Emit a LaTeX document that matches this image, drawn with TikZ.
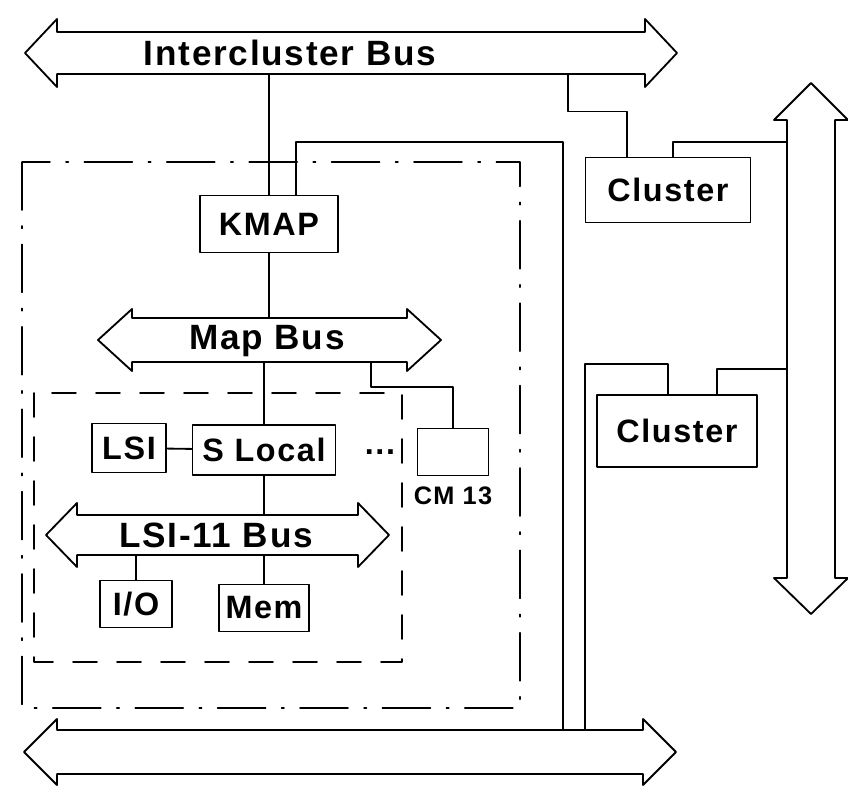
\documentclass[tikz,border=0pt]{standalone}
\usepackage{fontspec}
\newfontfamily\labelfont[LetterSpace=5]{Liberation Sans}
\usetikzlibrary{positioning}
\begin{document}
\begin{tikzpicture}[x=0.25mm, y=-0.25mm, line width=1.3pt, line join=round, line cap=round,
	unit/.style={draw, inner sep=0pt, font=\labelfont\bfseries\fontsize{23}{23}\selectfont},
	buslabel/.style={inner sep=0pt, font=\labelfont\bfseries\fontsize{25}{25}\selectfont},
	smalllabel/.style={inner sep=0pt, font=\labelfont\bfseries\fontsize{18}{18}\selectfont},
	clusterframe/.style={line width=1.1pt, dash pattern=on 12mm off 4mm on 0.6mm off 4mm},
	localframe/.style={line width=1.1pt, dash pattern=on 6mm off 5mm}]
	\useasboundingbox (0,0) rectangle (848,795);
	% buses
	\draw (25,53) -- (57,19) -- (57,32) -- (645,32) -- (645,19) -- (677,53) -- (645,87) -- (645,74) -- (57,74) -- (57,87) -- cycle;
	\draw (98,340) -- (132,309) -- (132,318) -- (407,318) -- (407,309) -- (441,340) -- (407,371) -- (407,362) -- (132,362) -- (132,371) -- cycle;
	\draw (46,535) -- (77,503) -- (77,515) -- (358,515) -- (358,503) -- (389,535) -- (358,567) -- (358,555) -- (77,555) -- (77,567) -- cycle;
	\draw (24,752) -- (57,719) -- (57,730) -- (643,730) -- (643,719) -- (676,752) -- (643,785) -- (643,774) -- (57,774) -- (57,785) -- cycle;
	\draw (811,83) -- (848,120) -- (835,120) -- (835,578) -- (848,578) -- (811,614) -- (774,578) -- (787,578) -- (787,120) -- (774,120) -- cycle;
	\node[buslabel] (icbus) at (290,53) {Intercluster Bus};
	\node[buslabel] (mapbus) at (267,341) {Map Bus};
	\node[buslabel] (lsibus) at (216,535) {LSI-11 Bus};
	\coordinate (ic-s) at (0,74);
	\coordinate (map-n) at (0,318);
	\coordinate (map-s) at (0,362);
	\coordinate (lsib-n) at (0,515);
	\coordinate (lsib-s) at (0,555);
	\coordinate (bot-n) at (0,730);
	% frames
	\draw[clusterframe] (22,162) rectangle (520,708);
	\draw[localframe] (34,393) rectangle (402,662);
	% units
	\node[unit, minimum width=34.5mm, minimum height=14.25mm] (kmap) at (269,224) {KMAP};
	\node[unit, minimum width=41.25mm, minimum height=16.25mm] (cl1) at (668,190) {Cluster};
	\node[unit, minimum width=40mm, minimum height=18mm] (cl2) at (677,431) {Cluster};
	\node[unit, minimum width=18.5mm, minimum height=12.25mm] (lsi) at (129,448) {LSI};
	\node[unit, minimum width=35.75mm, minimum height=12.5mm] (slocal) at (264,450) {S Local};
	\node[unit, minimum width=17.75mm, minimum height=11.75mm] (cm13) at (453,452) {};
	\node[smalllabel, below=2.5mm of cm13] (cm13lbl) {CM 13};
	\node[unit, draw=none] (dots) at (380,452) {...};
	\node[unit, minimum width=18mm, minimum height=11.75mm] (io) at (136,604) {I/O};
	\node[unit, minimum width=22.5mm, minimum height=11.75mm] (mem) at (264,608) {Mem};
	% connections
	\draw (kmap.north) -- (kmap.north |- ic-s);
	\draw (kmap.south) -- (kmap.south |- map-n);
	\draw (slocal.north) -- (slocal.north |- map-s);
	\draw (lsi) -- (slocal);
	\draw (slocal.south) -- (slocal.south |- lsib-n);
	\draw (io.north) -- (io.north |- lsib-s);
	\draw (mem.north) -- (mem.north |- lsib-s);
	\coordinate (cm-tap) at (371,362);
	\coordinate (cm-bend) at (371,387);
	\draw (cm13.north) |- (cm-bend) -- (cm-tap);
	\coordinate (kloop) at (563,142);
	\draw ([xshift=6.75mm]kmap.north) |- (kloop) -- (kloop |- bot-n);
	\coordinate (ic-tap) at (568,74);
	\draw (ic-tap) |- ([xshift=-10.25mm, yshift=11.25mm]cl1.north) -- ([xshift=-10.25mm]cl1.north);
	\coordinate (vb1) at (787,142);
	\draw ([xshift=1.25mm]cl1.north) |- (vb1);
	\coordinate (cl2loop) at (585,364);
	\draw ([xshift=-2.25mm]cl2.north) |- (cl2loop) -- (cl2loop |- bot-n);
	\coordinate (vb2) at (787,369);
	\draw ([xshift=10mm]cl2.north) |- (vb2);
\end{tikzpicture}
\end{document}
